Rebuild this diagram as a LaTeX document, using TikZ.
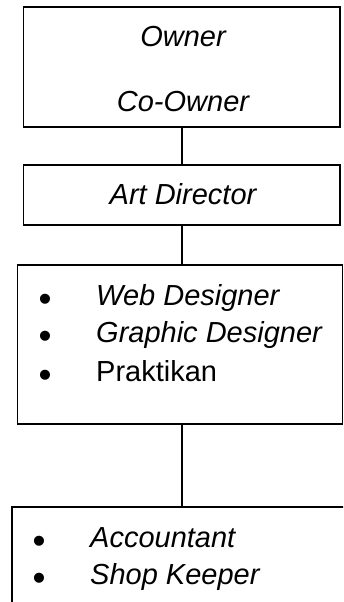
\documentclass[tikz,border=0pt]{standalone}
\usepackage{fontspec}
\setmainfont{Liberation Sans}
\begin{document}
\begin{tikzpicture}[x=1pt,y=1pt,
  box/.style={draw,line width=1.3pt,inner sep=0pt},
  lbl/.style={font=\fontsize{29}{34}\selectfont\itshape,inner sep=0pt,anchor=base},
  item/.style={font=\fontsize{29}{34}\selectfont,inner sep=0pt,anchor=base west},
  bul/.style={font=\fontsize{37}{40}\selectfont,inner sep=0pt,anchor=base west},
  conn/.style={line width=1.3pt}]
\useasboundingbox (0,0) rectangle (343,602);
\begin{scope}
\clip (0,0) rectangle (343,602);
% boxes
\node[box,minimum width=316.5pt,minimum height=120pt] (b1) at (181.75,535) {};
\node[box,minimum width=316.5pt,minimum height=60pt] (b2) at (181.75,407) {};
\node[box,minimum width=325pt,minimum height=159pt] (b3) at (180,257.5) {};
\node[box,minimum width=350pt,minimum height=120pt] (b4) at (187,35) {};
% connectors
\draw[conn] (b1.south -| 182,0) -- (b2.north -| 182,0);
\draw[conn] (b2.south -| 182,0) -- (b3.north -| 182,0);
\draw[conn] (b3.south -| 182,0) -- (b4.north -| 182,0);
% texts
\node[lbl] (owner) at (183,555) {Owner};
\node[lbl] (coowner) at (183,490) {Co-Owner};
\node[lbl] (art) at (183,397) {Art Director};
\node[bul] (bu1) at (38.5,290.7) {•};
\node[item] (t1) at (96,296) {\itshape Web Designer};
\node[bul] (bu2) at (38.5,253.7) {•};
\node[item] (t2) at (96,259) {\itshape Graphic Designer};
\node[bul] (bu3) at (38.5,214.7) {•};
\node[item] (t3) at (96,220) {Praktikan};
\node[bul] (bu4) at (32.5,48.7) {•};
\node[item] (t4) at (90,54) {\itshape Accountant};
\node[bul] (bu5) at (32.5,11.7) {•};
\node[item] (t5) at (90,17) {\itshape Shop Keeper};
\end{scope}
\end{tikzpicture}
\end{document}
